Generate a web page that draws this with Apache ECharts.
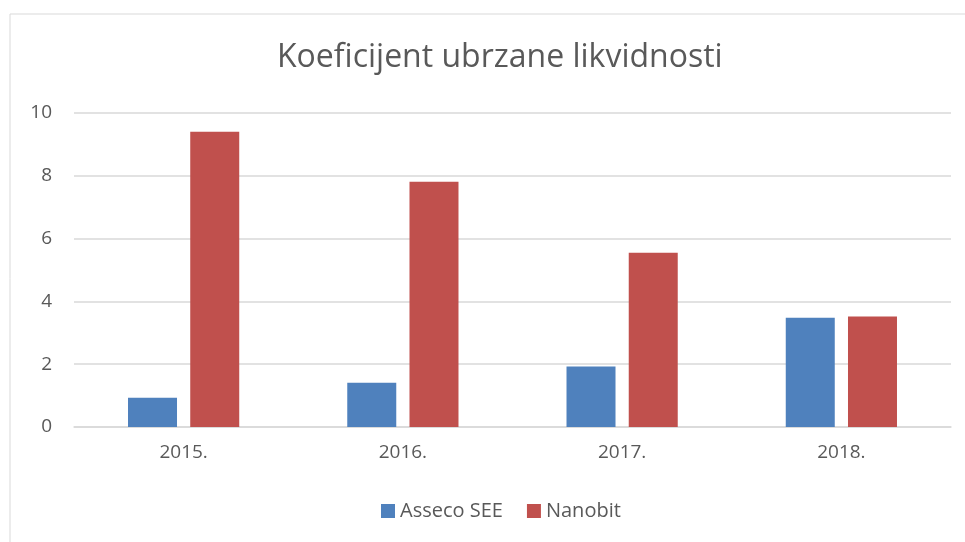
<!DOCTYPE html>
<html>
<head>
<meta charset="utf-8">
<script src="https://cdn.jsdelivr.net/npm/echarts@6/dist/echarts.min.js"></script>
<style>
  html, body { margin: 0; padding: 0; background: #fff; }
  #chart { width: 965px; height: 542px; }
</style>
</head>
<body>
<div id="chart"></div>
<script>
// podaci
var years = ['2015.', '2016.', '2017.', '2018.'];
var asseco = [0.93, 1.41, 1.93, 3.48];
var nanobit = [9.40, 7.81, 5.55, 3.52];

var chart = echarts.init(document.getElementById('chart'));

var option = {
  backgroundColor: '#fff',
  animation: false,
  textStyle: { fontFamily: 'Open Sans' },
  graphic: [
    {
      type: 'rect',
      shape: { x: 10, y: 14, width: 1000, height: 600 },
      style: { fill: 'none', stroke: '#d9d9d9', lineWidth: 1 }
    }
  ],
  title: {
    text: 'Koeficijent ubrzane likvidnosti',
    left: 272,
    top: 37,
    textStyle: {
      color: '#595959',
      fontWeight: 'normal',
      fontFamily: 'Open Sans',
      fontSize: 32
    }
  },
  legend: {
    bottom: 16,
    left: 376,
    itemWidth: 14,
    itemHeight: 14,
    itemGap: 24,
    icon: 'rect',
    textStyle: { color: '#595959', fontSize: 20, fontFamily: 'Open Sans' },
    data: ['Asseco SEE', 'Nanobit']
  },
  grid: {
    left: 74,
    right: 14,
    top: 113,
    bottom: 115,
    containLabel: false
  },
  xAxis: {
    type: 'category',
    data: years,
    axisTick: { show: false },
    axisLine: { lineStyle: { color: '#d9d9d9', width: 1.5 } },
    axisLabel: { color: '#595959', fontSize: 19, margin: 16 }
  },
  yAxis: {
    type: 'value',
    min: 0,
    max: 10,
    interval: 2,
    axisLine: { show: false },
    axisTick: { show: false },
    axisLabel: { color: '#595959', fontSize: 19, margin: 22 },
    splitLine: { lineStyle: { color: '#d9d9d9', width: 1.5 } }
  },
  series: [
    {
      name: 'Asseco SEE',
      type: 'bar',
      data: asseco,
      barWidth: 49,
      barGap: '27%',
      itemStyle: { color: '#4f81bd' }
    },
    {
      name: 'Nanobit',
      type: 'bar',
      data: nanobit,
      barWidth: 49,
      barGap: '27%',
      itemStyle: { color: '#c0504d' }
    }
  ]
};

chart.setOption(option);
</script>
</body>
</html>
